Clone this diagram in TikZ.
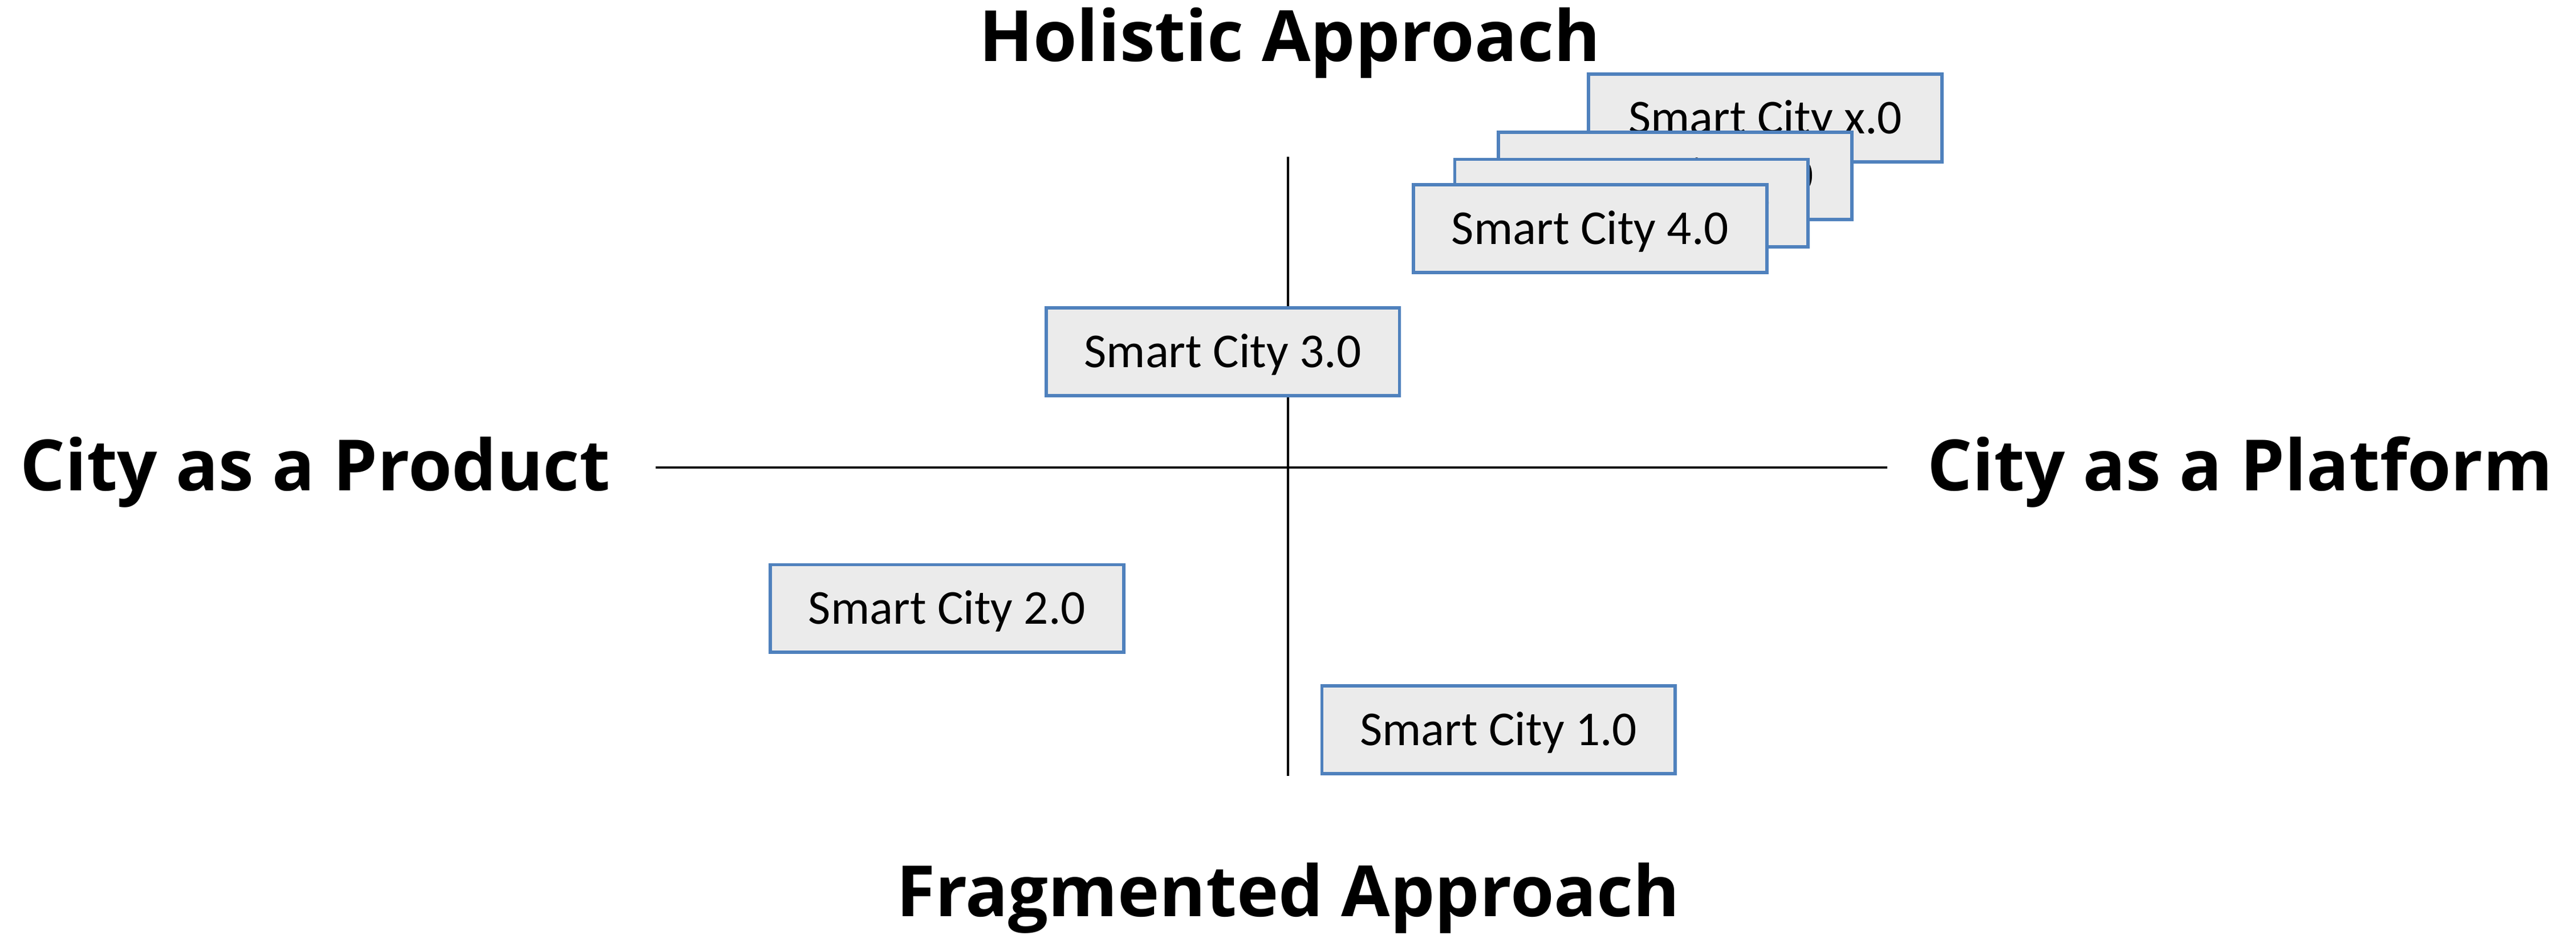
\documentclass[tikz,border=0pt]{standalone}
\usepackage{fontspec}
\setmainfont{Carlito}
\newfontfamily\labfont{Open Sans}
\definecolor{boxblue}{HTML}{4F81BD}
\definecolor{boxfill}{HTML}{EBEBEB}
\begin{document}
\begin{tikzpicture}[x=1pt,y=-1pt,
  scbox/.style={draw=boxblue,fill=boxfill,line width=2pt,minimum width=214pt,minimum height=53pt,inner sep=0pt,text height=19pt,text depth=0pt,font=\fontsize{29.5}{32}\selectfont},
  axislab/.style={font=\labfont\bfseries\fontsize{42.8}{46}\selectfont,inner sep=0pt},
  axisline/.style={line width=1.4pt,black}]
\useasboundingbox (0,0) rectangle (1560,566);
% axes
\coordinate (top) at (780,95);
\coordinate (bot) at (780,470);
\coordinate (lft) at (397,283);
\coordinate (rgt) at (1143,283);
\draw[axisline] (top) -- (bot);
\draw[axisline] (lft) -- (rgt);
% labels
\node[axislab] (hol) at (781,26) {Holistic Approach};
\node[axislab] (frag) at (780,544) {Fragmented Approach};
\node[axislab,anchor=west] (prod) at (12,286) {City as a Product};
\node[axislab,anchor=east] (plat) at (1546,286) {City as a Platform};
% boxes
\node[scbox] (sx) at (1069,71.5) {Smart City x.0};
\node[scbox] (s6) at (1014.5,106.5) {Smart City 6.0};
\node[scbox] (s5) at (988,123) {Smart City 5.0};
\node[scbox] (s4) at (963,138.5) {Smart City 4.0};
\node[scbox] (s3) at (740.5,213) {Smart City 3.0};
\node[scbox] (s2) at (573.5,368.5) {Smart City 2.0};
\node[scbox] (s1) at (907.5,442) {Smart City 1.0};
\end{tikzpicture}
\end{document}
